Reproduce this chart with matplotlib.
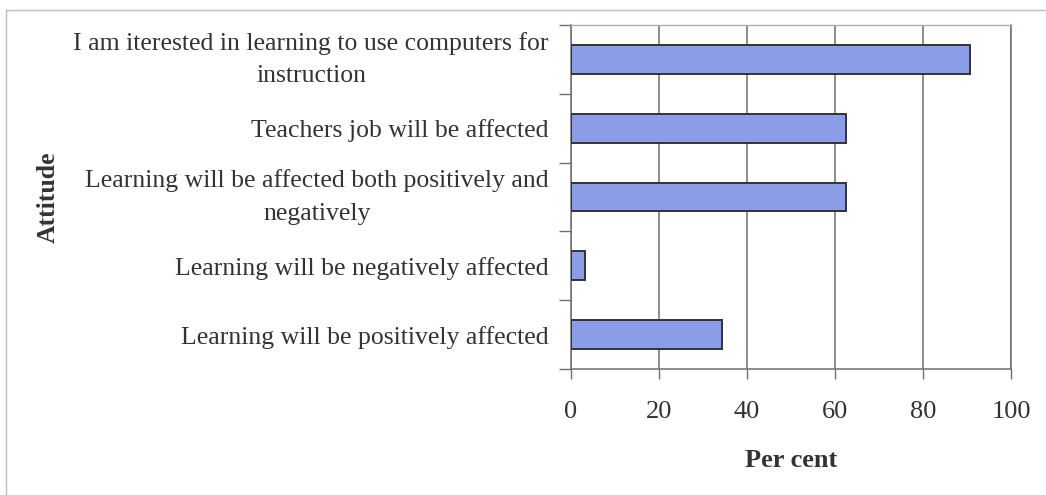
import matplotlib
matplotlib.use("Agg")
import matplotlib.pyplot as plt
from matplotlib.lines import Line2D

##################### DATA #####################
attitudes = [
    "Learning will be positively affected",
    "Learning will be negatively affected",
    "Learning will be affected both positively and\nnegatively",
    "Teachers job will be affected",
    "I am iterested in learning to use computers for\ninstruction",
]
percent = [34.3, 3.2, 62.6, 62.6, 90.6]
x_ticks = [0, 20, 40, 60, 80, 100]

##################### PLOT SETTINGS #####################
font_family = ["Liberation Serif", "DejaVu Serif"]
text_col = "#333333"
cat_size = 18.5
tick_size = 19
bar_col = "#8a9de6"
grid_col = "#6e6e6e"
###################################################################

plt.rcParams["font.family"] = font_family

fig = plt.figure(figsize=(10.46, 4.95), dpi=100)
ax = fig.add_axes([571 / 1046, 1 - 369 / 495, 440 / 1046, 344 / 495])

pos = list(range(len(attitudes)))
ax.barh(pos, percent, height=0.42, color=bar_col, edgecolor="#333333",
        linewidth=1.4, zorder=3)

ax.set_xlim(0, 100)
ax.set_ylim(-0.5, len(attitudes) - 0.5)
ax.set_xticks(x_ticks)
ax.set_xticklabels([str(t) for t in x_ticks], fontsize=tick_size, color=text_col)
ax.set_yticks(pos)
ax.set_yticklabels(attitudes, fontsize=cat_size, color=text_col,
                   multialignment="center", linespacing=1.6)
# wrapped labels sit centred on the bar
for lbl in ax.get_yticklabels():
    if "\n" in lbl.get_text():
        lbl.set_verticalalignment("center")
# category boundary ticks like excel
ax.set_yticks([p - 0.5 for p in pos] + [len(pos) - 0.5], minor=True)
ax.tick_params(axis="y", which="major", length=0, pad=16)
ax.tick_params(axis="y", which="minor", length=9, width=1.0, color=grid_col,
               direction="out")
ax.tick_params(axis="x", length=7, width=1.0, color=grid_col, pad=16)

ax.xaxis.grid(True, color=grid_col, linewidth=1.1, zorder=0)
ax.set_axisbelow(True)
for side in ["left", "bottom", "right"]:
    ax.spines[side].set_color(grid_col)
    ax.spines[side].set_linewidth(1.1)
ax.spines["top"].set_color("#9fb0b8")
ax.spines["top"].set_linewidth(1.0)

ax.set_xlabel("Per cent", fontsize=tick_size, fontweight="bold",
              color=text_col, labelpad=19)
fig.text(48 / 1046, 1 - 197 / 495, "Attitude", rotation=90, fontsize=cat_size,
         fontweight="bold", color=text_col, ha="center", va="center")

# outer chart frame (only left and top edges show in the scan)
fx, fy = 5.5 / 1046, 1 - 9.5 / 495
fig.lines.append(Line2D([fx, fx], [0, fy], transform=fig.transFigure,
                        color="#b8c0c4", linewidth=1.0))
fig.lines.append(Line2D([fx, 1], [fy, fy], transform=fig.transFigure,
                        color="#b8c0c4", linewidth=1.0))

fig.savefig("out.png", dpi=100)
